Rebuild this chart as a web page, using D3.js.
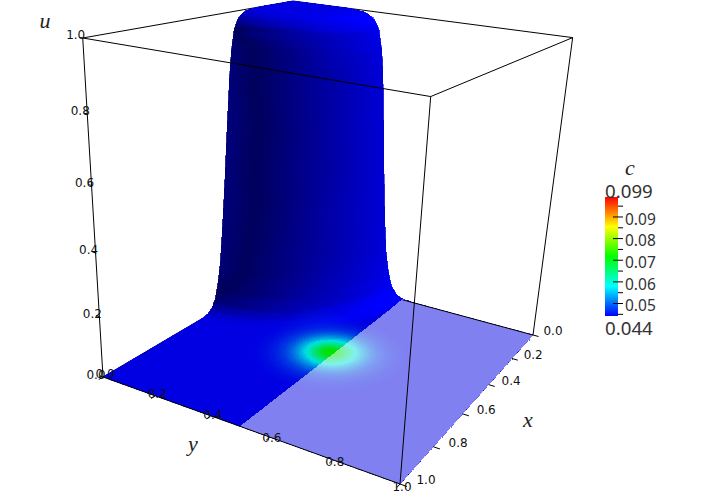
<!DOCTYPE html>
<html>
<head>
<meta charset="utf-8">
<script src="https://cdnjs.cloudflare.com/ajax/libs/d3/7.8.5/d3.min.js"></script>
<style>
html, body { margin: 0; padding: 0; background: #fff; }
</style>
</head>
<body>
<div id="chart-area"></div>
<script>
var mwidth = 718;
var mheight = 495;

// u against distance from the corner x=0, y=0
var uRadius = [0, 0.22, 0.28, 0.30, 0.32, 0.34, 0.355, 0.365, 0.38, 0.395, 0.41, 0.42, 0.433, 0.45, 0.47, 0.49, 0.51, 0.55];
var uProfile = [1, 1, 0.995, 0.988, 0.975, 0.945, 0.88, 0.80, 0.62, 0.42, 0.26, 0.17, 0.10, 0.045, 0.018, 0.006, 0.001, 0];

// c against distance from the spot near x=0.5, y=0.5
var cRadius = [0, 0.024, 0.045, 0.06, 0.08, 0.10, 0.115, 0.13, 0.15, 0.18, 0.21, 0.25];
var cProfile = [0.072, 0.0705, 0.066, 0.0625, 0.0578, 0.054, 0.0518, 0.0497, 0.0476, 0.0458, 0.0447, 0.044];
var spot = [0.49, 0.49];
var sliceY = 0.5;

var colorStops = [0.044, 0.05775, 0.0715, 0.08525, 0.099];
var colorNames = ["#0000ff", "#00ffff", "#00ff00", "#ffff00", "#ff0000"];
var colorTicks = [0.05, 0.06, 0.07, 0.08, 0.09];
var colorMinor = [0.045, 0.055, 0.065, 0.075, 0.085, 0.095];
var colorEnds = ["0.044", "0.099"];

var boxTicks = [0, 0.2, 0.4, 0.6, 0.8, 1];

var uAt = d3.scaleLinear().domain(uRadius).range(uProfile).clamp(true);
var cAt = d3.scaleLinear().domain(cRadius).range(cProfile).clamp(true);
var color = d3.scaleLinear().domain(colorStops).range(colorNames).clamp(true);

// camera: the box corners on the page and the perspective weights
var cornerA = [103, 377];   // x=1 y=0
var cornerB = [400, 484];   // x=1 y=1
var cornerC = [533, 335];   // x=0 y=1
var cornerT = [293, 1];     // x=0 y=0 u=1
var wx = 0.778, wy = 0.887, wu = 0.896;
var cornerO = [0, 1].map((i) => {
	return cornerB[i] + wx * (cornerA[i] - cornerB[i]) + wy * (cornerC[i] - cornerB[i]);
});

function project(x, y, u) {
	var w = 1 + (wx - 1) * x + (wy - 1) * y + (wu - 1) * u;
	return [0, 1].map((i) => {
		return (cornerO[i]
			+ x * (wx * cornerA[i] - cornerO[i])
			+ y * (wy * cornerC[i] - cornerO[i])
			+ u * (wu * cornerT[i] - cornerO[i])) / w;
	});
}

function height(x, y) {
	return uAt(Math.hypot(x, y));
}

// one light, two sided, dark where the wall turns edge on to it
var light = [-0.25, 0.62, 0.75];
var ambient = 0.36, diffuse = 0.70;

function fillAt(x, y) {
	var e = 0.012;
	var nx = (height(x - e, y) - height(x + e, y)) / (2 * e);
	var ny = (height(x, y - e) - height(x, y + e)) / (2 * e);
	var len = Math.hypot(nx, ny, 1);
	var dot = Math.abs(nx * light[0] + ny * light[1] + light[2]) / len;
	var shade = Math.min(1, ambient + diffuse * dot);
	var c = d3.rgb(color(cAt(Math.hypot(x - spot[0], y - spot[1]))));
	return d3.rgb(c.r * shade, c.g * shade, c.b * shade).formatHex();
}

function pts(list) {
	return list.map((d) => { return project(d[0], d[1], height(d[0], d[1])).map((v) => { return v.toFixed(1); }).join(","); }).join(" ");
}

var svg = d3.select("#chart-area").append("svg")
	.attr("width", mwidth)
	.attr("height", mheight)
	.style("display", "block");

function edge(g, a, b) {
	var p = project(a[0], a[1], a[2]), q = project(b[0], b[1], b[2]);
	g.append("line")
		.attr("x1", p[0]).attr("y1", p[1])
		.attr("x2", q[0]).attr("y2", q[1])
		.attr("stroke", "#000")
		.attr("stroke-width", 1);
}

// back of the box
var back = svg.append("g");
edge(back, [1, 0, 1], [0, 0, 1]);
edge(back, [0, 0, 1], [0, 1, 1]);
edge(back, [1, 0, 0], [0, 0, 0]);

// floor
var cells = [];
var step = 0.01;
d3.range(0, 100).forEach((i) => {
	d3.range(0, 100).forEach((j) => {
		var x = i * step, y = j * step;
		cells.push({
			points: [[x, y], [x + step, y], [x + step, y + step], [x, y + step]],
			fill: fillAt(x + step / 2, y + step / 2)
		});
	});
});

// wall, rings from the inside out so nearer rings paint last
var dr = 0.005, dt = Math.PI / 2 / 80;
d3.range(0, 120).forEach((i) => {
	d3.range(0, 80).forEach((j) => {
		var r0 = i * dr, r1 = r0 + dr, t0 = j * dt, t1 = t0 + dt;
		var rm = r0 + dr / 2, tm = t0 + dt / 2;
		cells.push({
			points: [
				[r0 * Math.cos(t0), r0 * Math.sin(t0)],
				[r1 * Math.cos(t0), r1 * Math.sin(t0)],
				[r1 * Math.cos(t1), r1 * Math.sin(t1)],
				[r0 * Math.cos(t1), r0 * Math.sin(t1)]
			],
			fill: fillAt(rm * Math.cos(tm), rm * Math.sin(tm))
		});
	});
});

svg.append("g")
	.selectAll("polygon")
	.data(cells)
	.enter().append("polygon")
		.attr("points", (d) => { return pts(d.points); })
		.attr("fill", (d) => { return d.fill; })
		.attr("stroke", (d) => { return d.fill; })
		.attr("stroke-width", 0.6)
		.attr("shape-rendering", "crispEdges");

// half white slice over y > 0.5
var sliceEdge = d3.range(0, 1.001, 0.02).map((x) => { return [1 - x, sliceY]; })
	.concat(d3.range(sliceY, 1.001, 0.02).map((y) => { return [0, y]; }))
	.concat([[1, 1]]);
svg.append("polygon")
	.attr("points", pts(sliceEdge))
	.attr("fill", "#fff")
	.attr("fill-opacity", 0.5)
	.attr("shape-rendering", "crispEdges");

// front of the box
var front = svg.append("g");
edge(front, [0, sliceY, 0], [0, 1, 0]);
edge(front, [1, 0, 0], [1, 1, 0]);
edge(front, [1, 0, 0], [1, 0, 1]);
edge(front, [1, 1, 0], [1, 1, 1]);
edge(front, [0, 1, 0], [0, 1, 1]);
edge(front, [1, 0, 1], [1, 1, 1]);
edge(front, [1, 1, 1], [0, 1, 1]);

// ticks and labels along the three axes
boxTicks.forEach((t) => {
	edge(front, [1, t, 0], [1.018, t, 0]);
	edge(front, [t, 1, 0], [t, 1.02, 0]);
	edge(front, [1, 0, t], [1, -0.012, t]);
});

var axisText = svg.append("g")
	.attr("font-family", "'DejaVu Sans', sans-serif")
	.attr("font-size", "12px")
	.attr("fill", "#111")
	.attr("text-anchor", "middle");

function tickLabel(p, dx, dy, t) {
	axisText.append("text")
		.attr("x", p[0] + dx)
		.attr("y", p[1] + dy)
		.text(t.toFixed(1));
}

boxTicks.forEach((t) => {
	tickLabel(project(1, 0, t), -7, 1.5, t);
	tickLabel(project(1, t, 0), 2, 1 + t * 6, t);
	tickLabel(project(t, 1, 0), 20 + t * 6, 0, t);
});

// axis names
var names = svg.append("g")
	.attr("font-family", "'Liberation Serif', serif")
	.attr("font-style", "italic")
	.attr("font-size", "22px")
	.attr("fill", "#222")
	.attr("text-anchor", "middle");
names.append("text").attr("x", 45).attr("y", 28).text("u");
names.append("text").attr("x", 193).attr("y", 451).text("y");
names.append("text").attr("x", 528).attr("y", 427).text("x");
names.append("text").attr("x", 630).attr("y", 175).text("c");

// colour bar
var barX = 605, barW = 13;
var barY = d3.scaleLinear().domain([colorStops[0], colorStops[4]]).range([316, 197]);
var bar = svg.append("g");
bar.selectAll("rect")
	.data(d3.range(197, 316))
	.enter().append("rect")
		.attr("x", barX)
		.attr("y", (d) => { return d; })
		.attr("width", barW)
		.attr("height", 1)
		.attr("fill", (d) => { return color(barY.invert(d + 0.5)); });

var majorAxis = d3.axisRight(barY)
	.tickValues(colorTicks)
	.tickSize(10)
	.tickPadding(2)
	.tickFormat(d3.format(".2f"));

var minorAxis = d3.axisRight(barY)
	.tickValues(colorMinor)
	.tickSize(5)
	.tickFormat("");

svg.append("g")
	.attr("transform", "translate(" + (barX + 8) + ",0)")
	.call(majorAxis)
	.call((g) => { g.select(".domain").remove(); })
	.selectAll("text")
		.attr("font-family", "'Noto Sans', sans-serif")
		.attr("font-size", "15.5px")
		.attr("fill", "#333")
		.attr("dy", "0.5em");

svg.append("g")
	.attr("transform", "translate(" + (barX + barW) + ",0)")
	.call(minorAxis)
	.call((g) => { g.select(".domain").remove(); });

var ends = svg.append("g")
	.attr("font-family", "'Noto Sans', sans-serif")
	.attr("font-size", "18.7px")
	.attr("fill", "#333");
ends.append("text").attr("x", 605).attr("y", 198).text(colorEnds[1]);
ends.append("text").attr("x", 605).attr("y", 335).text(colorEnds[0]);
</script>
</body>
</html>
